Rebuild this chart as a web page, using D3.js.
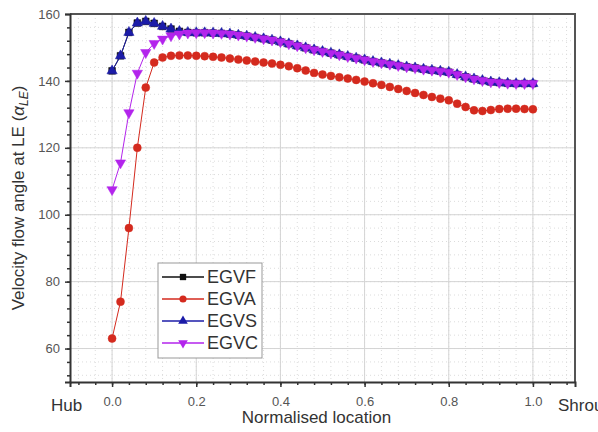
<!DOCTYPE html>
<html>
<head>
<meta charset="utf-8">
<script src="https://cdn.jsdelivr.net/npm/d3@7"></script>
<style>
  body { margin: 0; background: #fff; }
  svg { font-family: "Liberation Sans", Arial, sans-serif; }
  .tick text { fill: #555; font-size: 13px; }
  .grid-major line { stroke: #d4d4d4; stroke-width: 1; }
  .grid-minor line { stroke: #dcdcdc; stroke-width: 1; stroke-dasharray: 1,3; }
</style>
</head>
<body>
<svg width="598" height="432"></svg>
<script>
  // normalised location, 0 to 1 in steps of 0.02
  const locations = d3.range(51).map(i => +(i * 0.02).toFixed(2));

  const egva = [63, 74, 96, 120, 138, 145.5, 147, 147.5, 147.6, 147.6,
    147.5, 147.4, 147.2, 147.0, 146.7, 146.4, 146.1, 145.8, 145.5, 145.2,
    144.8, 144.4, 143.8, 143.1, 142.4, 141.9, 141.5, 141.1, 140.7, 140.3,
    139.8, 139.3, 138.8, 138.2, 137.6, 137.0, 136.4, 135.8, 135.2, 134.7,
    134.2, 133.2, 132.2, 131.2, 131.0, 131.3, 131.6, 131.7, 131.7, 131.6, 131.5];

  const egvc = [107.5, 115.5, 130.5, 142.3, 148.5, 151.2, 152.5, 153.5, 154.0, 154.3,
    154.4, 154.4, 154.3, 154.2, 154.0, 153.7, 153.4, 153.0, 152.6, 152.2,
    151.7, 151.1, 150.5, 149.9, 149.3, 148.8, 148.3, 147.8, 147.3, 146.8,
    146.3, 145.8, 145.4, 145.0, 144.6, 144.2, 143.9, 143.5, 143.2, 142.9,
    142.6, 141.9, 141.2, 140.6, 140.1, 139.7, 139.5, 139.3, 139.2, 139.2, 139.2];

  const egvs = [143, 147.5, 154.5, 157.3, 157.8, 157.2, 156.3, 155.5, 154.8, 154.5,
    154.4, 154.4, 154.3, 154.2, 154.0, 153.7, 153.4, 153.0, 152.6, 152.2,
    151.7, 151.1, 150.5, 149.9, 149.3, 148.8, 148.3, 147.8, 147.3, 146.8,
    146.3, 145.8, 145.4, 145.0, 144.6, 144.2, 143.9, 143.5, 143.2, 142.9,
    142.6, 141.9, 141.2, 140.6, 140.1, 139.7, 139.5, 139.3, 139.2, 139.2, 139.2];

  // EGVF sits under EGVS in the picture
  const egvf = egvs.slice();

  const xTicks = [0, 0.2, 0.4, 0.6, 0.8, 1.0];
  const yTicks = [60, 80, 100, 120, 140, 160];

  const series = [
    { name: 'EGVF', values: egvf, color: '#111111', symbol: d3.symbolSquare },
    { name: 'EGVA', values: egva, color: '#d42a1e', symbol: d3.symbolCircle },
    { name: 'EGVS', values: egvs, color: '#1c1ca8', symbol: d3.symbolTriangle },
    { name: 'EGVC', values: egvc, color: '#b324ec', symbol: d3.symbolTriangle, flip: true }
  ];

  const svg = d3.select('svg');
  const margin = { top: 14, right: 23, bottom: 50, left: 70 };
  const width = +svg.attr('width');
  const height = +svg.attr('height');
  const innerWidth = width - margin.left - margin.right;
  const innerHeight = height - margin.top - margin.bottom;

  const xScale = d3.scaleLinear().domain([-0.1, 1.1]).range([0, innerWidth]);
  const yScale = d3.scaleLinear().domain([50, 160]).range([innerHeight, 0]);

  const g = svg.append('g')
    .attr('transform', `translate(${margin.left},${margin.top})`);

  // grid, minor dotted then major solid
  const xMinor = d3.range(-0.08, 1.09, 0.04).map(v => +v.toFixed(2));
  const yMinor = d3.range(52, 160, 4);

  g.append('g').attr('class', 'grid-minor')
    .selectAll('line').data(xMinor).join('line')
      .attr('x1', d => xScale(d)).attr('x2', d => xScale(d))
      .attr('y1', 0).attr('y2', innerHeight);
  g.append('g').attr('class', 'grid-minor')
    .selectAll('line').data(yMinor).join('line')
      .attr('y1', d => yScale(d)).attr('y2', d => yScale(d))
      .attr('x1', 0).attr('x2', innerWidth);

  g.append('g').attr('class', 'grid-major')
    .selectAll('line').data(xTicks).join('line')
      .attr('x1', d => xScale(d)).attr('x2', d => xScale(d))
      .attr('y1', 0).attr('y2', innerHeight);
  g.append('g').attr('class', 'grid-major')
    .selectAll('line').data(yTicks).join('line')
      .attr('y1', d => yScale(d)).attr('y2', d => yScale(d))
      .attr('x1', 0).attr('x2', innerWidth);

  // frame top/right
  g.append('path')
    .attr('d', `M0,0H${innerWidth}V${innerHeight}`)
    .attr('fill', 'none')
    .attr('stroke', '#555')
    .attr('stroke-width', 2);

  // axes
  g.append('g')
    .attr('transform', `translate(0,${innerHeight})`)
    .call(d3.axisBottom(xScale).tickValues(xTicks).tickSize(5).tickPadding(10)
      .tickFormat(d3.format('.1f')));
  const xMinorG = g.append('g')
    .attr('transform', `translate(0,${innerHeight})`)
    .call(d3.axisBottom(xScale).tickValues(xMinor).tickSize(3));
  xMinorG.select('.domain').remove();
  xMinorG.selectAll('.tick text').remove();

  g.append('g')
    .call(d3.axisLeft(yScale).tickValues(yTicks).tickSize(5).tickPadding(5));
  const yMinorG = g.append('g')
    .call(d3.axisLeft(yScale).tickValues(yMinor).tickSize(3));
  yMinorG.select('.domain').remove();
  yMinorG.selectAll('.tick text').remove();

  g.selectAll('.domain').attr('stroke', '#333').attr('stroke-width', 2);
  g.selectAll('.tick line').attr('stroke', '#333').attr('stroke-width', 1.5);

  // series lines and markers
  const lineGenerator = d3.line()
    .x((d, i) => xScale(locations[i]))
    .y(d => yScale(d));

  series.forEach(s => {
    g.append('path')
      .attr('d', lineGenerator(s.values))
      .attr('fill', 'none')
      .attr('stroke', s.color)
      .attr('stroke-width', 1);

    const sym = d3.symbol().type(s.symbol).size(s.symbol === d3.symbolCircle ? 50 : 46);
    g.append('g').selectAll('path').data(s.values).join('path')
      .attr('transform', (d, i) =>
        `translate(${xScale(locations[i])},${yScale(d)})${s.flip ? ' rotate(180)' : ''}`)
      .attr('d', sym)
      .attr('fill', s.color)
      .attr('stroke', s.color)
      .attr('stroke-width', 0.5);
  });

  // axis labels
  svg.append('text')
    .attr('x', margin.left + innerWidth / 2 - 6)
    .attr('y', 423)
    .attr('text-anchor', 'middle')
    .attr('fill', '#333')
    .attr('font-size', 17)
    .text('Normalised location');

  svg.append('text')
    .attr('x', 51).attr('y', 411)
    .attr('fill', '#333').attr('font-size', 17)
    .text('Hub');
  svg.append('text')
    .attr('x', 558).attr('y', 411)
    .attr('fill', '#333').attr('font-size', 17)
    .text('Shroud');

  const yLabel = svg.append('text')
    .attr('transform', `translate(24,${margin.top + innerHeight / 2}) rotate(-90)`)
    .attr('text-anchor', 'middle')
    .attr('fill', '#333')
    .attr('font-size', 17);
  yLabel.append('tspan').text('Velocity flow angle at LE (');
  yLabel.append('tspan').attr('font-style', 'italic').text('α');
  yLabel.append('tspan').attr('font-size', 12).attr('dy', 4).attr('font-style', 'italic').text('LE');
  yLabel.append('tspan').attr('dy', -4).text(')');

  // legend
  const legend = svg.append('g').attr('transform', 'translate(158,263)');
  legend.append('rect')
    .attr('width', 104).attr('height', 95)
    .attr('fill', '#fff').attr('stroke', '#999').attr('stroke-width', 1);

  series.forEach((s, i) => {
    const row = legend.append('g').attr('transform', `translate(0,${14 + i * 22})`);
    row.append('line')
      .attr('x1', 4).attr('x2', 46)
      .attr('stroke', s.color).attr('stroke-width', 1.5);
    row.append('path')
      .attr('transform', `translate(25,0)${s.flip ? ' rotate(180)' : ''}`)
      .attr('d', d3.symbol().type(s.symbol).size(40))
      .attr('fill', s.color);
    row.append('text')
      .attr('x', 49).attr('y', 6)
      .attr('font-size', 18)
      .attr('fill', '#333')
      .text(s.name);
  });
</script>
</body>
</html>
